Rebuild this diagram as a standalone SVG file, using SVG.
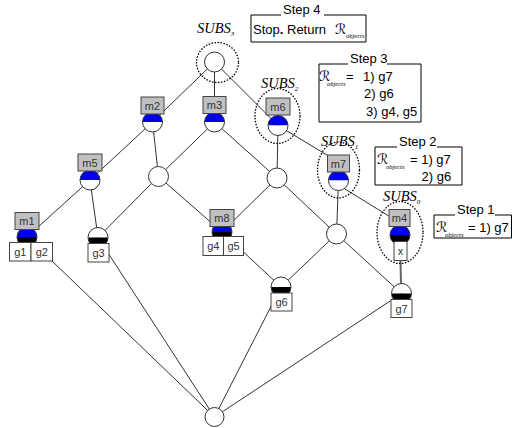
<svg xmlns="http://www.w3.org/2000/svg" width="512" height="428" viewBox="0 0 512 428">
<style>
.e{stroke:#333;stroke-width:1;fill:none}
.e2{stroke:#666;stroke-width:2;fill:none}
.ring{fill:none;stroke:#333;stroke-width:1}
.wc{fill:#fff;stroke:#333;stroke-width:1}
.mb{fill:#c0c0c0;stroke:#444;stroke-width:1}
.gb{fill:#fff;stroke:#444;stroke-width:1}
.lb{font-family:"Liberation Sans",Arial,sans-serif;font-size:11px;fill:#333;text-anchor:middle}
.bl{fill:#0000ee}
.bk{fill:#000}
.wh{fill:#fff}
.subs{fill:none;stroke:#000;stroke-width:1.3;stroke-dasharray:1.5 1.5}
.bx{fill:none;stroke:#000;stroke-width:1}
.st{font-family:"Liberation Sans",Arial,sans-serif;font-size:13px;fill:#000}
.sl{font-family:"Liberation Serif","Times New Roman",serif;font-style:italic;font-size:14.5px;fill:#000}
.sd{font-size:7px}
.sub{font-family:"Liberation Serif",serif;font-style:italic;font-size:6.5px;fill:#000}
.rr{font-family:"DejaVu Sans",sans-serif;font-size:14px;fill:#000}
</style>
<g id="connectors">
<line class="e" x1="214.5" y1="62" x2="152.5" y2="122"/>
<line class="e" x1="214.5" y1="62" x2="214.5" y2="122"/>
<line class="e" x1="214.5" y1="62" x2="278" y2="125.5"/>
<line class="e" x1="152.5" y1="122" x2="90" y2="180"/>
<line class="e" x1="152.5" y1="122" x2="158.5" y2="176.5"/>
<line class="e" x1="214.5" y1="122" x2="158.5" y2="176.5"/>
<line class="e" x1="214.5" y1="122" x2="277" y2="178"/>
<line class="e" x1="278" y1="125.5" x2="277" y2="178"/>
<line class="e" x1="278" y1="125.5" x2="338.5" y2="162"/>
<line class="e" x1="90" y1="180" x2="27" y2="237"/>
<line class="e" x1="90" y1="180" x2="98" y2="237.5"/>
<line class="e" x1="158.5" y1="176.5" x2="98" y2="237.5"/>
<line class="e" x1="158.5" y1="176.5" x2="222" y2="232"/>
<line class="e" x1="277" y1="178" x2="222" y2="232"/>
<line class="e" x1="277" y1="178" x2="336.5" y2="234"/>
<line class="e" x1="338.5" y1="180.5" x2="336.5" y2="234"/>
<line class="e" x1="338.5" y1="185" x2="400" y2="223"/>
<line class="e" x1="222" y1="232" x2="281" y2="287"/>
<line class="e" x1="336.5" y1="234" x2="281" y2="287"/>
<line class="e" x1="336.5" y1="234" x2="401.5" y2="293.5"/>
<line class="e2" x1="400.5" y1="260" x2="401" y2="285"/>
<line class="e" x1="27" y1="237" x2="214.5" y2="417"/>
<line class="e" x1="98" y1="237.5" x2="214.5" y2="417"/>
<line class="e" x1="281" y1="287" x2="214.5" y2="417"/>
<line class="e" x1="401.5" y1="293.5" x2="214.5" y2="417"/>
</g>
<g id="top"><circle class="wc" cx="214.5" cy="62" r="10"/></g>
<g id="m2">
<path class="bl" d="M142.5,122 A10,10 0 0 1 162.5,122Z"/><path class="wh" d="M142.5,122 A10,10 0 0 0 162.5,122Z"/>
<circle class="ring" cx="152.5" cy="122" r="10"/>
<rect class="mb" x="141" y="97" width="23" height="17"/><text class="lb" x="152.5" y="109.5">m2</text>
</g>
<g id="m3">
<path class="bl" d="M204.5,122 A10,10 0 0 1 224.5,122Z"/><path class="wh" d="M204.5,122 A10,10 0 0 0 224.5,122Z"/>
<circle class="ring" cx="214.5" cy="122" r="10"/>
<rect class="mb" x="203" y="96.5" width="23" height="17"/><text class="lb" x="214.5" y="109">m3</text>
</g>
<g id="m6">
<path class="bl" d="M268,125.5 A10,10 0 0 1 288,125.5Z"/><path class="wh" d="M268,125.5 A10,10 0 0 0 288,125.5Z"/>
<circle class="ring" cx="278" cy="125.5" r="10"/>
<rect class="mb" x="266" y="98" width="24" height="17"/><text class="lb" x="278" y="110.5">m6</text>
</g>
<g id="m5">
<path class="bl" d="M80,180 A10,10 0 0 1 100,180Z"/><path class="wh" d="M80,180 A10,10 0 0 0 100,180Z"/>
<circle class="ring" cx="90" cy="180" r="10"/>
<rect class="mb" x="78" y="154" width="24" height="17"/><text class="lb" x="90" y="166.5">m5</text>
</g>
<g id="c1"><circle class="wc" cx="158.5" cy="176.5" r="10"/></g>
<g id="c2"><circle class="wc" cx="277" cy="178" r="10"/></g>
<g id="m7">
<path class="bl" d="M328.5,180.5 A10,10 0 0 1 348.5,180.5Z"/><path class="wh" d="M328.5,180.5 A10,10 0 0 0 348.5,180.5Z"/>
<circle class="ring" cx="338.5" cy="180.5" r="10"/>
<rect class="mb" x="327.5" y="155" width="22" height="17"/><text class="lb" x="338.5" y="167.5">m7</text>
</g>
<g id="m1">
<path class="bl" d="M17,237 A10,10 0 0 1 37,237Z"/><path class="bk" d="M17,237 A10,10 0 0 0 37,237Z"/>
<circle class="ring" cx="27" cy="237" r="10"/>
<rect class="mb" x="15" y="212.5" width="24" height="17"/><text class="lb" x="27" y="225">m1</text>
<rect class="gb" x="9.5" y="242.5" width="21.5" height="18.5"/><text class="lb" x="20.3" y="255.5">g1</text>
<rect class="gb" x="31" y="242.5" width="21.5" height="18.5"/><text class="lb" x="41.8" y="255.5">g2</text>
</g>
<g id="g3">
<path class="wh" d="M88,237.5 A10,10 0 0 1 108,237.5Z"/><path class="bk" d="M88,237.5 A10,10 0 0 0 108,237.5Z"/>
<circle class="ring" cx="98" cy="237.5" r="10"/>
<rect class="gb" x="88" y="243.5" width="21" height="18.5"/><text class="lb" x="98.5" y="256.5">g3</text>
</g>
<g id="m8">
<path class="bl" d="M212,232 A10,10 0 0 1 232,232Z"/><path class="bk" d="M212,232 A10,10 0 0 0 232,232Z"/>
<circle class="ring" cx="222" cy="232" r="10"/>
<rect class="mb" x="210" y="209.5" width="24" height="17"/><text class="lb" x="222" y="222">m8</text>
<rect class="gb" x="203" y="236.5" width="20.5" height="19"/><text class="lb" x="213.3" y="250">g4</text>
<rect class="gb" x="223.5" y="236.5" width="20" height="19"/><text class="lb" x="233.5" y="250">g5</text>
</g>
<g id="c3"><circle class="wc" cx="336.5" cy="234" r="10"/></g>
<g id="m4">
<path class="bl" d="M390,235 A10,10 0 0 1 410,235Z"/><path class="bk" d="M390,235 A10,10 0 0 0 410,235Z"/>
<circle class="ring" cx="400" cy="235" r="10"/>
<rect class="mb" x="389" y="209.5" width="21" height="17"/><text class="lb" x="399.5" y="222">m4</text>
<rect class="gb" x="394" y="241.5" width="13" height="19"/><text class="lb" x="400.5" y="255">x</text>
</g>
<g id="g6">
<path class="wh" d="M271,287 A10,10 0 0 1 291,287Z"/><path class="bk" d="M271,287 A10,10 0 0 0 291,287Z"/>
<circle class="ring" cx="281" cy="287" r="10"/>
<rect class="gb" x="271" y="293" width="21" height="18"/><text class="lb" x="281.5" y="306">g6</text>
</g>
<g id="g7">
<path class="wh" d="M391.5,293.5 A10,10 0 0 1 411.5,293.5Z"/><path class="bk" d="M391.5,293.5 A10,10 0 0 0 411.5,293.5Z"/>
<circle class="ring" cx="401.5" cy="293.5" r="10"/>
<rect class="gb" x="391" y="299.5" width="21" height="18"/><text class="lb" x="401.5" y="312.5">g7</text>
</g>
<g id="bottom"><circle class="wc" cx="214.5" cy="417" r="9.5"/></g>
<g id="subs3"><ellipse class="subs" cx="217.5" cy="62.5" rx="21" ry="20"/><text class="sl" x="197" y="33">SUBS<tspan class="sd" dy="3">3</tspan></text></g>
<g id="subs2"><ellipse class="subs" cx="277.5" cy="116" rx="22.5" ry="27.5"/><text class="sl" x="261" y="88">SUBS<tspan class="sd" dy="3">2</tspan></text></g>
<g id="subs1"><ellipse class="subs" cx="338.5" cy="170" rx="21" ry="28"/><text class="sl" x="321" y="146">SUBS<tspan class="sd" dy="3">1</tspan></text></g>
<g id="subs0"><ellipse class="subs" cx="400" cy="232.5" rx="23" ry="31"/><text class="sl" x="383" y="201">SUBS<tspan class="sd" dy="3">0</tspan></text></g>
<g id="step4">
<path class="bx" d="M281,15 H251 V42 H366 V15 H324"/>
<text class="st" x="283" y="14">Step 4</text>
<text class="st" x="253" y="34">Stop<tspan font-weight="bold">.</tspan> Return</text>
<text class="rr" x="335" y="34">ℛ</text><text class="sub" x="346" y="38">objects</text>
</g>
<g id="step3">
<path class="bx" d="M348,64 H319 V122 H421 V64 H387"/>
<text class="st" x="350" y="63">Step 3</text>
<text class="rr" x="319" y="81">ℛ</text><text class="sub" x="327" y="86">objects</text>
<text class="st" x="346" y="81">=</text>
<text class="st" x="363" y="81">1) g7</text>
<text class="st" x="364" y="98">2) g6</text>
<text class="st" x="366" y="115.5">3) g4, g5</text>
</g>
<g id="step2">
<path class="bx" d="M397,147 H375 V185 H462 V147 H437"/>
<text class="st" x="399" y="146">Step 2</text>
<text class="rr" x="377" y="164">ℛ</text><text class="sub" x="386" y="169">objects</text>
<text class="st" x="410" y="164">= 1) g7</text>
<text class="st" x="421.5" y="180.5">2) g6</text>
</g>
<g id="step1">
<path class="bx" d="M455,215 H434 V238 H511.5 V215 H495"/>
<text class="st" x="457" y="214">Step 1</text>
<text class="rr" x="436" y="232">ℛ</text><text class="sub" x="445" y="237">objects</text>
<text class="st" x="468" y="232">= 1) g7</text>
</g>
</svg>
